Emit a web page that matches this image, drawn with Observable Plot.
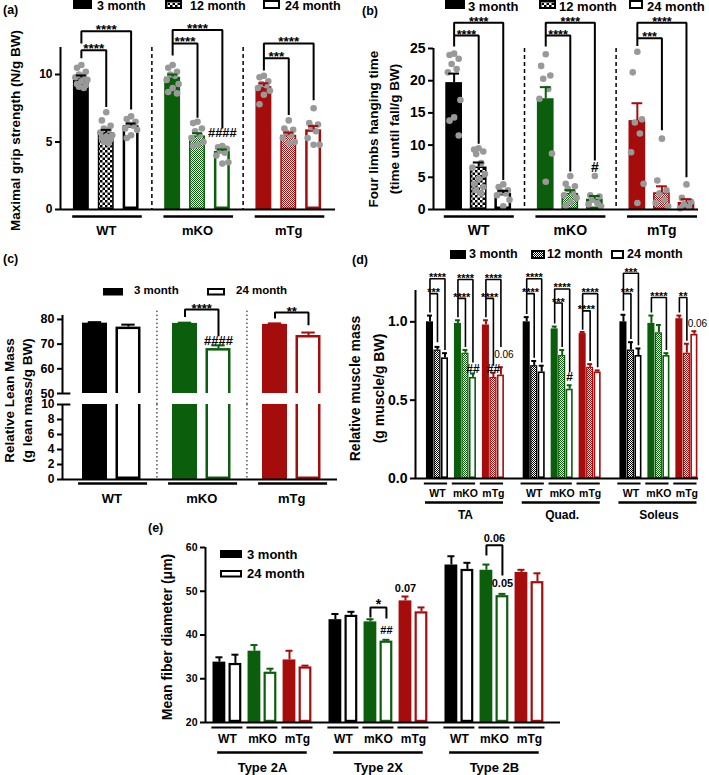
<!DOCTYPE html>
<html><head><meta charset="utf-8">
<script src="https://cdn.jsdelivr.net/npm/d3@7"></script>
<script src="https://cdn.jsdelivr.net/npm/@observablehq/plot@0.6"></script>
<style>
body{margin:0;background:#fff;}
#fig{position:relative;width:709px;height:775px;overflow:hidden;background:#fff;font-family:"Liberation Sans",Arial,Helvetica,sans-serif;font-weight:bold;color:#000;}
#fig g[aria-label="y-axis"] line, #fig g[aria-label="y-axis tick"] path{stroke-width:2px;}
</style></head>
<body><div id="fig"></div>
<script>
// ================= DATA =================
const genotypes = ["WT", "mKO", "mTg"];
const ages3 = ["3 month", "12 month", "24 month"];
const ages2 = ["3 month", "24 month"];
const muscles = ["TA", "Quad.", "Soleus"];
const fiberTypes = ["Type 2A", "Type 2X", "Type 2B"];

// (a) maximal grip strength
const gripTicks = [0, 5, 10];
const gripMean = [[9.75, 5.7, 6.2], [9.8, 5.45, 4.3], [9.1, 5.5, 5.9]];
const gripSem = [[0.18, 0.2, 0.17], [0.2, 0.2, 0.15], [0.25, 0.2, 0.28]];
const gripPoints = [
  [[10.7,10.5,10.2,10.0,9.9,9.8,9.6,9.5,9.3,9.2,9.1,9.0],
   [7.2,6.6,6.2,6.0,5.9,5.7,5.5,5.4,5.3,5.2,5.0,4.9],
   [6.9,6.7,6.5,6.3,6.2,6.0,5.9,5.5,5.3]],
  [[10.7,10.5,10.2,10.0,9.9,9.6,9.3,9.0,8.7,8.6],
   [6.5,6.4,6.0,5.8,5.5,5.3,5.0,4.8,4.7],
   [4.7,4.6,4.5,4.4,4.2,4.0,3.5,3.4]],
  [[9.9,9.8,9.5,9.3,9.2,9.0,8.8,8.5,7.8],
   [6.6,6.0,5.9,5.7,5.5,5.3,5.0,4.9],
   [7.5,6.4,6.3,6.1,5.8,5.3,4.8,4.8]]
];
// [genotype, fromAge, toAge, bracketTop, leftLegEnd, rightLegEnd, label]
const gripBrackets = [
  [0,0,1,11.8,11.2,7.6,"****"], [0,0,2,13.2,12.3,7.4,"****"],
  [1,0,1,12.3,11.4,6.8,"****"], [1,0,2,13.3,12.3,6.0,"****"],
  [2,0,1,11.2,10.3,7.0,"***"],  [2,0,2,12.3,11.2,8.1,"****"]
];
const gripNotes = [[1, 2, 5.7, "####"]];

// (b) four limbs hanging time
const hangTicks = [0, 5, 10, 15, 20, 25];
const hangMean = [[19.7, 6.6, 2.5], [17.2, 2.5, 1.6], [13.8, 2.6, 1.1]];
const hangSem = [[1.4, 0.7, 0.4], [1.8, 0.5, 0.5], [2.7, 1.0, 0.5]];
const hangPoints = [
  [[24.2,24.0,23.4,22.6,21.8,21.3,17.0,14.3,13.8,11.5],
   [9.5,9.3,9.0,8.6,7.2,6.5,5.5,4.8,4.0,3.5,3.0,2.5],
   [3.9,3.5,3.0,2.8,2.5,2.2,1.5,0.5]],
  [[24.1,22.3,20.8,20.3,18.7,17.2,8.7,4.3],
   [5.2,4.0,3.6,3.2,2.6,2.2,1.8,1.2,0.6],
   [5.2,2.2,2.0,1.5,1.0,0.8,0.5]],
  [[24.5,21.3,14.0,13.5,11.8,8.9,4.0,1.0],
   [11.0,4.5,3.0,2.5,1.5,1.0,0.5],
   [3.9,1.8,1.2,0.8,0.4,0.2]]
];
const hangBrackets = [
  [0,0,1,27.0,25.3,10.2,"****"], [0,0,2,29.0,27.0,4.6,"****"],
  [1,0,1,27.0,25.3,5.9,"****"],  [1,0,2,29.0,27.0,7.6,"****"],
  [2,0,1,26.6,25.4,12.3,"***"],  [2,0,2,29.0,26.6,5.0,"****"]
];
const hangNotes = [[1, 2, 6.5, "#"]];

// (c) relative lean mass (broken axis)
const leanUpperTicks = [50, 60, 70, 80];
const leanLowerTicks = [0, 2, 4, 6, 8, 10];
const leanMean = [[78.5, 76.9], [78.4, 68.2], [78.0, 73.5]];
const leanSem = [[0.4, 1.0], [0.3, 1.3], [0.4, 1.2]];
const leanBrackets = [[1,0,1,84.0,81.0,73.2,"****"], [2,0,1,82.8,80.4,77.6,"**"]];
const leanNotes = [[1, 1, 71.4, "####"]];

// (d) relative muscle mass [muscle][genotype][age]
const massTicks = [0, 0.5, 1.0];
const massMean = [
  [[1.00,0.82,0.77],[0.99,0.80,0.645],[0.98,0.645,0.66]],
  [[1.00,0.72,0.68],[0.955,0.785,0.57],[0.925,0.71,0.68]],
  [[1.00,0.82,0.785],[0.99,0.93,0.785],[1.02,0.80,0.92]]
];
const massSem = [
  [[0.04,0.02,0.03],[0.02,0.02,0.025],[0.03,0.03,0.05]],
  [[0.03,0.03,0.04],[0.015,0.035,0.025],[0.01,0.02,0.01]],
  [[0.045,0.05,0.045],[0.05,0.05,0.015],[0.02,0.06,0.02]]
];
// [muscle, genotype, fromAge, toAge, top, leftEnd, rightEnd, label]
const massBrackets = [
  [0,0,0,1,1.18,1.06,0.87,"***"],  [0,0,0,2,1.275,1.18,0.82,"****"],
  [0,1,0,1,1.15,1.03,0.84,"****"], [0,1,0,2,1.27,1.15,0.74,"****"],
  [0,2,0,1,1.15,1.03,0.72,"****"], [0,2,0,2,1.27,1.15,0.84,"****"],
  [1,0,0,1,1.18,1.05,0.77,"****"], [1,0,0,2,1.275,1.18,0.74,"****"],
  [1,1,0,1,1.12,0.99,0.84,"***"],  [1,1,0,2,1.21,1.12,0.68,"****"],
  [1,2,0,1,1.07,0.95,0.75,"****"], [1,2,0,2,1.18,1.07,0.71,"****"],
  [2,0,0,1,1.18,1.07,0.89,"***"],  [2,0,0,2,1.31,1.18,0.85,"***"],
  [2,1,0,2,1.155,1.06,0.82,"****"],
  [2,2,0,1,1.155,1.06,0.88,"**"]
];
const massNotes = [[0,1,2,0.70,"##"], [0,2,1,0.70,"##"], [0,2,2,0.79,"0.06"], [1,1,2,0.645,"#"], [2,2,2,0.985,"0.06"]];

// (e) mean fiber diameter [fiber type][genotype][age]
const fiberTicks = [20, 30, 40, 50, 60];
const fiberMean = [
  [[33.8,33.5],[36.3,31.5],[34.3,32.7]],
  [[43.5,44.5],[43.0,38.6],[47.8,45.3]],
  [[56.0,55.0],[54.8,49.0],[54.3,52.2]]
];
const fiberSem = [
  [[1.1,2.0],[1.4,0.8],[2.1,0.3]],
  [[1.3,0.8],[0.6,0.3],[1.0,1.0]],
  [[2.0,1.5],[1.3,0.4],[0.6,1.9]]
];
const fiberBrackets = [[1,1,0,1,46.3,44.0,43.8,"*"], [2,1,0,1,60.5,58.2,53.6,"0.06"]];
const fiberNotes = [[1,1,1,41.0,"##"], [1,2,0,50.6,"0.07"], [2,1,1,51.8,"0.05"]];

// ================= STYLE / HELPERS =================
const FONT = '"Liberation Sans", Arial, Helvetica, sans-serif';
const genoColor = ["#000000", "#0b5e0b", "#a50c0c"];
const DOT = "#999999";
const NS = "http://www.w3.org/2000/svg";
const fig = document.getElementById("fig");

const defsSvg = document.createElementNS(NS, "svg");
defsSvg.setAttribute("width", 0); defsSvg.setAttribute("height", 0);
defsSvg.style.position = "absolute";
const defs = document.createElementNS(NS, "defs");
defsSvg.appendChild(defs); fig.appendChild(defsSvg);
function svgEl(tag, attrs) { const e = document.createElementNS(NS, tag); for (const k in attrs) e.setAttribute(k, attrs[k]); return e; }
function checker(id, color, cell) {
  const p = svgEl("pattern", {id, patternUnits: "userSpaceOnUse", width: 2 * cell, height: 2 * cell});
  p.appendChild(svgEl("rect", {x: 0, y: 0, width: 2 * cell, height: 2 * cell, fill: "#fff"}));
  p.appendChild(svgEl("rect", {x: 0, y: 0, width: cell, height: cell, fill: color}));
  p.appendChild(svgEl("rect", {x: cell, y: cell, width: cell, height: cell, fill: color}));
  defs.appendChild(p);
  return `url(#${id})`;
}
const chkCoarse = checker("chkCoarse", "#000", 2.5);
const chkFine = genoColor.map((c, i) => checker("chkFine" + i, c, 1));

function place(node, left, top) {
  node.style.position = "absolute"; node.style.left = left + "px"; node.style.top = top + "px";
  node.style.overflow = "visible"; fig.appendChild(node); return node;
}
function addText(text, x, baseline, size, weight = "bold") {
  const d = document.createElement("div");
  d.textContent = text;
  Object.assign(d.style, {position: "absolute", left: x + "px", top: (baseline - 0.8465 * size) + "px",
    fontSize: size + "px", lineHeight: size + "px", fontWeight: weight, whiteSpace: "nowrap"});
  fig.appendChild(d);
}
function legendItem(x, y, w, h, kind, color, pat, tx, baseline, size, text) {
  const s = svgEl("svg", {width: w, height: h});
  Object.assign(s.style, {position: "absolute", left: x + "px", top: y + "px", overflow: "visible"});
  const sw = 2;
  if (kind === "solid") s.appendChild(svgEl("rect", {x: 0, y: 0, width: w, height: h, fill: color}));
  else s.appendChild(svgEl("rect", {x: sw / 2, y: sw / 2, width: w - sw, height: h - sw,
    fill: kind === "open" ? "#fff" : pat, stroke: color, "stroke-width": sw}));
  fig.appendChild(s);
  addText(text, tx, baseline, size);
}
function common(width, height, ml, mr, mt, mb, fs) {
  return {width, height, marginLeft: ml, marginRight: mr, marginTop: mt, marginBottom: mb,
    color: {type: "identity"},
    style: {fontFamily: FONT, fontSize: fs + "px", fontWeight: "bold", background: "transparent", overflow: "visible", color: "#000"}};
}
function yLabel(text, o) {
  return Plot.text([text], {frameAnchor: o.anchor || "left", text: d => d, rotate: -90, textAnchor: "middle", lineAnchor: "middle",
    dx: o.dx, dy: o.dy || 0, fontSize: o.fs, lineHeight: o.lh || 1});
}
const spread = [0, -0.55, 0.55, -0.3, 0.3, -0.75, 0.75];
function dotRows(points, posFn, half) {
  const rows = [];
  points.forEach((byAge, g) => byAge.forEach((vals, a) => {
    [...vals].sort((p, q) => q - p).forEach((v, i) => rows.push({x: posFn(g, a) + spread[i % spread.length] * half, y: v}));
  }));
  return rows;
}
function bars(rows, y0, o) {
  const X1 = r => r.x - r.half, X2 = r => r.x + r.half, clip = !!o.clip;
  return [
    Plot.rect(rows.filter(r => r.kind === "solid"), {x1: X1, x2: X2, y1: () => y0, y2: r => r.v, fill: r => r.color, clip}),
    Plot.rect(rows.filter(r => r.kind === "pattern"), {x1: X1, x2: X2, y1: () => y0, y2: r => r.v, fill: r => r.fill, stroke: r => r.color, strokeWidth: o.patW, inset: o.patW / 2, clip}),
    Plot.rect(rows.filter(r => r.kind === "open"), {x1: X1, x2: X2, y1: () => y0, y2: r => r.v, fill: "#fff", stroke: r => r.color, strokeWidth: o.openW, inset: o.openW / 2, clip})
  ];
}
function errs(rows, capHalf, w) {
  const T = r => r.v + r.sem;
  return [
    Plot.ruleX(rows, {x: r => r.x, y1: r => r.v, y2: T, stroke: r => r.color, strokeWidth: w}),
    Plot.ruleY(rows, {y: T, x1: r => r.x - capHalf, x2: r => r.x + capHalf, stroke: r => r.color, strokeWidth: w})
  ];
}
function brackets(list, o) {
  const pts = list.flatMap((b, i) => [{i, x: b.xl, y: b.left}, {i, x: b.xl, y: b.top}, {i, x: b.xr, y: b.top}, {i, x: b.xr, y: b.right}]);
  const stars = list.filter(b => b.label.startsWith("*")), nums = list.filter(b => !b.label.startsWith("*"));
  return [
    Plot.line(pts, {x: "x", y: "y", z: "i", stroke: "#000", strokeWidth: o.sw, strokeLinejoin: "miter", strokeLinecap: "butt"}),
    Plot.text(stars, {x: b => (b.xl + b.xr) / 2, y: b => b.top, text: "label", lineAnchor: "bottom", dy: o.dyStar, fontSize: o.fs}),
    Plot.text(nums, {x: b => (b.xl + b.xr) / 2, y: b => b.top, text: "label", lineAnchor: "bottom", dy: -3, fontSize: o.fsNum || 11})
  ];
}

// ================= PANEL (a) =================
const xDomA = [-0.84, 10.22];
const posA = (g, a) => g * 3.67 + a;
const rowsA = [];
genotypes.forEach((gn, g) => ages3.forEach((an, a) => rowsA.push({
  x: posA(g, a), half: 0.32, v: gripMean[g][a], sem: gripSem[g][a], color: genoColor[g],
  kind: ["solid", "pattern", "open"][a], fill: g === 0 ? chkCoarse : chkFine[g]})));
const brA = gripBrackets.map(([g, a1, a2, top, left, right, label]) => ({xl: posA(g, a1), xr: posA(g, a2), top, left, right, label}));
const noteA = gripNotes.map(([g, a, y, label]) => ({x: posA(g, a), y, label}));
place(Plot.plot({
  ...common(345, 240, 60, 10, 47, 31, 12),
  x: {domain: xDomA, axis: null},
  y: {domain: [0, 12], ticks: gripTicks, tickSize: 5, tickPadding: 3, label: null},
  marks: [
    Plot.ruleX(genotypes.slice(1), {x: (d, i) => posA(i, 2) + 0.835, strokeDasharray: "4,3", strokeWidth: 1.5}),
    ...bars(rowsA, 0, {patW: 1.5, openW: 2.5}),
    Plot.dot(dotRows(gripPoints, posA, 0.32), {x: "x", y: "y", r: 3.3, fill: DOT}),
    ...errs(rowsA, 0.2, 2),
    Plot.ruleX([xDomA[0]], {strokeWidth: 2}),
    Plot.ruleY([0], {strokeWidth: 2}),
    ...brackets(brA, {sw: 2, fs: 13.5, dyStar: 3}),
    Plot.text(noteA, {x: "x", y: "y", text: "label", fontSize: 13}),
    Plot.ruleY(genotypes, {y: () => 0, x1: (d, i) => posA(i, 0) - 0.35, x2: (d, i) => posA(i, 2) + 0.45, dy: 7, strokeWidth: 2.5}),
    Plot.text(genotypes, {x: (d, i) => posA(i, 1), y: () => 0, text: d => d, dy: 21, fontSize: 13}),
    yLabel("Maximal grip strength (N/g BW)", {dx: -45, dy: 2, fs: 13.5})
  ]
}), 0, 0);
addText("(a)", 3, 15, 12.5);
legendItem(73, 0, 19, 9, "solid", "#000", null, 97, 10.8, 12.5, ages3[0]);
legendItem(165, 0, 17, 9, "pattern", "#000", chkCoarse, 190, 10.8, 12.5, ages3[1]);
legendItem(263, 0, 17, 9, "open", "#000", null, 285, 10.8, 12.5, ages3[2]);

// ================= PANEL (b) =================
const xDomB = [-0.84, 9.95];
const posB = (g, a) => g * 3.73 + a;
const rowsB = [];
genotypes.forEach((gn, g) => ages3.forEach((an, a) => rowsB.push({
  x: posB(g, a), half: 0.34, v: hangMean[g][a], sem: hangSem[g][a], color: genoColor[g],
  kind: ["solid", "pattern", "open"][a], fill: g === 0 ? chkCoarse : chkFine[g]})));
const brB = hangBrackets.map(([g, a1, a2, top, left, right, label]) => ({xl: posB(g, a1), xr: posB(g, a2), top, left, right, label}));
const noteB = hangNotes.map(([g, a, y, label]) => ({x: posB(g, a), y, label}));
place(Plot.plot({
  ...common(359, 240, 83, 11, 48, 31, 14),
  x: {domain: xDomB, axis: null},
  y: {domain: [0, 25], ticks: hangTicks, tickSize: 5, tickPadding: 3, label: null},
  marks: [
    Plot.ruleX(genotypes.slice(1), {x: (d, i) => posB(i, 2) + 0.865, strokeDasharray: "4,3", strokeWidth: 1.5}),
    ...bars(rowsB, 0, {patW: 1.5, openW: 2.5}),
    Plot.dot(dotRows(hangPoints, posB, 0.34), {x: "x", y: "y", r: 3.3, fill: DOT}),
    ...errs(rowsB, 0.22, 2),
    Plot.ruleX([xDomB[0]], {strokeWidth: 2}),
    Plot.ruleY([0], {strokeWidth: 2}),
    ...brackets(brB, {sw: 2, fs: 12.5, dyStar: 3}),
    Plot.text(noteB, {x: "x", y: "y", text: "label", fontSize: 14}),
    Plot.ruleY(genotypes, {y: () => 0, x1: (d, i) => posB(i, 0) - 0.4, x2: (d, i) => posB(i, 2) + 0.45, dy: 7, strokeWidth: 2.5}),
    Plot.text(genotypes, {x: (d, i) => posB(i, 1), y: () => 0, text: d => d, dy: 21, fontSize: 14}),
    yLabel("Four limbs hanging time\n(time until fall/g BW)", {dx: -52, dy: 0, fs: 13.5, lh: 1.55})
  ]
}), 350, 0);
addText("(b)", 362, 16, 12.5);
legendItem(445, 0, 20, 9, "solid", "#000", null, 468, 10.8, 13, ages3[0]);
legendItem(539, 0, 17, 9, "pattern", "#000", chkCoarse, 559, 10.8, 13, ages3[1]);
legendItem(629, 0, 14, 9, "open", "#000", null, 647, 10.8, 13, ages3[2]);

// ================= PANEL (c) =================
const xDomC = [-0.97, 7.24];
const posC = (g, a) => g * 2.687 + a;
const rowsC = [];
genotypes.forEach((gn, g) => ages2.forEach((an, a) => rowsC.push({
  x: posC(g, a), half: 0.373, v: leanMean[g][a], sem: leanSem[g][a], color: genoColor[g],
  kind: ["solid", "open"][a], fill: null})));
const brC = leanBrackets.map(([g, a1, a2, top, left, right, label]) => ({xl: posC(g, a1), xr: posC(g, a2), top, left, right, label}));
const noteC = leanNotes.map(([g, a, y, label]) => ({x: posC(g, a), y, label}));
// upper segment
place(Plot.plot({
  ...common(345, 149, 62, 8, 60, 11, 12.5),
  x: {domain: xDomC, axis: null},
  y: {domain: [50, 81.6], ticks: leanUpperTicks, tickSize: 5, tickPadding: 3, label: null},
  marks: [
    Plot.ruleX(genotypes.slice(1), {x: (d, i) => posC(i, 1) + 0.85, y1: () => 45.5, y2: () => 83.5, strokeDasharray: "1.5,2.5", strokeWidth: 1}),
    ...bars(rowsC, 40, {patW: 1.5, openW: 2.5, clip: true}),
    ...errs(rowsC, 0.2, 2),
    Plot.ruleX([xDomC[0]], {strokeWidth: 2}),
    Plot.ruleY([50], {x1: () => xDomC[0], x2: () => xDomC[0] + 0.25, strokeWidth: 2}),
    ...brackets(brC, {sw: 2, fs: 13, dyStar: 3}),
    Plot.text(noteC, {x: "x", y: "y", text: "label", fontSize: 13}),
    yLabel("Relative Lean Mass\n(g lean mass/g BW)", {anchor: "bottom-left", dx: -45.5, dy: 7, fs: 13.5, lh: 1.33})
  ]
}), 0, 255);
// lower segment
place(Plot.plot({
  ...common(345, 109, 62, 8, 8, 26, 12),
  x: {domain: xDomC, axis: null},
  y: {domain: [0, 10], ticks: leanLowerTicks, tickSize: 5, tickPadding: 3, label: null},
  marks: [
    Plot.ruleX(genotypes.slice(1), {x: (d, i) => posC(i, 1) + 0.85, strokeDasharray: "1.5,2.5", strokeWidth: 1}),
    ...bars(rowsC, 0, {patW: 1.5, openW: 2.5, clip: true}),
    Plot.ruleX([xDomC[0]], {strokeWidth: 2}),
    Plot.ruleY([0], {strokeWidth: 2}),
    Plot.ruleY([10], {x1: () => xDomC[0], x2: () => xDomC[0] + 0.25, strokeWidth: 2}),
    Plot.ruleY(genotypes, {y: () => 0, x1: (d, i) => posC(i, 0) - 0.49, x2: (d, i) => posC(i, 1) + 0.57, dy: 4, strokeWidth: 2.5}),
    Plot.text(genotypes, {x: (d, i) => posC(i, 0) + 0.5, y: () => 0, text: d => d, dy: 19, fontSize: 13})
  ]
}), 0, 396);
addText("(c)", 3, 264, 12.5);
legendItem(103, 288, 20, 7.5, "solid", "#000", null, 134, 295, 11.5, ages2[0]);
legendItem(207, 288, 18, 7.5, "open", "#000", null, 236, 295, 11.5, ages2[1]);

// ================= PANEL (d) =================
const xDomD = [-1.93, 35.81];
const posD = (m, g, a) => m * 12.9 + g * 3.73 + a;
const rowsD = [];
muscles.forEach((mn, m) => genotypes.forEach((gn, g) => ages3.forEach((an, a) => rowsD.push({
  x: posD(m, g, a), half: 0.47, v: massMean[m][g][a], sem: massSem[m][g][a], color: genoColor[g],
  kind: ["solid", "pattern", "open"][a], fill: chkFine[g]}))));
const subD = muscles.flatMap((mn, m) => genotypes.map((gn, g) => ({m, g, name: gn})));
const brD = massBrackets.map(([m, g, a1, a2, top, left, right, label]) => ({xl: posD(m, g, a1), xr: posD(m, g, a2), top, left, right, label}));
const noteD = massNotes.map(([m, g, a, y, label]) => ({x: posD(m, g, a), y, label}));
place(Plot.plot({
  ...common(359, 265, 65, 11, 32, 45, 14),
  x: {domain: xDomD, axis: null},
  y: {domain: [0, 1.2], ticks: massTicks, tickFormat: d3.format(".1f"), tickSize: 5, tickPadding: 3, label: null},
  marks: [
    ...bars(rowsD, 0, {patW: 1.2, openW: 1.6}),
    ...errs(rowsD, 0.33, 2),
    Plot.ruleX([xDomD[0]], {strokeWidth: 2}),
    Plot.ruleY([0], {strokeWidth: 2}),
    ...brackets(brD, {sw: 1.6, fs: 11, dyStar: 2.5}),
    Plot.text(noteD.filter(d => d.label.startsWith("#")), {x: "x", y: "y", text: "label", fontSize: 12}),
    Plot.text(noteD.filter(d => !d.label.startsWith("#")), {x: "x", y: "y", text: "label", fontSize: 10, fontWeight: "normal", dx: 3}),
    Plot.ruleY(subD, {y: () => 0, x1: d => posD(d.m, d.g, 0) - 0.75, x2: d => posD(d.m, d.g, 2) + 0.35, dy: 5, strokeWidth: 2}),
    Plot.text(subD, {x: d => posD(d.m, d.g, 1), y: () => 0, text: "name", dy: 15, fontSize: 10.5}),
    Plot.ruleY(muscles, {y: () => 0, x1: (d, i) => posD(i, 0, 0) - 0.6, x2: (d, i) => posD(i, 2, 2) + 0.35, dy: 24, strokeWidth: 2.5}),
    Plot.text(muscles, {x: (d, i) => posD(i, 1, 1), y: () => 0, text: d => d, dy: 37, fontSize: 12}),
    yLabel("Relative muscle mass\n(g muscle/g BW)", {dx: -51.5, dy: 4, fs: 14, lh: 1.78})
  ]
}), 350, 258);
addText("(d)", 352, 265, 12.5);
legendItem(450, 250, 16, 9, "solid", "#000", null, 469, 259, 12.5, ages3[0]);
legendItem(531, 250, 14, 9, "pattern", "#000", chkFine[0], 547, 259, 12.5, ages3[1]);
legendItem(611, 250, 13, 9, "open", "#000", null, 627, 259, 12.5, ages3[2]);

// ================= PANEL (e) =================
const xDomE = [-0.87, 21.32];
const posE = (t, g, a) => t * 7.25 + g * 2.19 + a;
const rowsE = [];
fiberTypes.forEach((tn, t) => genotypes.forEach((gn, g) => ages2.forEach((an, a) => rowsE.push({
  x: posE(t, g, a), half: 0.4, v: fiberMean[t][g][a], sem: fiberSem[t][g][a], color: genoColor[g],
  kind: ["solid", "open"][a], fill: null}))));
const subE = fiberTypes.flatMap((tn, t) => genotypes.map((gn, g) => ({t, g, name: gn})));
const brE = fiberBrackets.map(([t, g, a1, a2, top, left, right, label]) => ({xl: posE(t, g, a1), xr: posE(t, g, a2), top, left, right, label}));
const noteE = fiberNotes.map(([t, g, a, y, label]) => ({x: posE(t, g, a), y, label}));
place(Plot.plot({
  ...common(420, 245, 55, 10, 17, 53, 10.5),
  x: {domain: xDomE, axis: null},
  y: {domain: [20, 60], ticks: fiberTicks, tickSize: 5, tickPadding: 3, label: null},
  marks: [
    ...bars(rowsE, 20, {patW: 1.5, openW: 2.2}),
    ...errs(rowsE, 0.22, 2),
    Plot.ruleX([xDomE[0]], {strokeWidth: 2}),
    Plot.ruleY([20], {strokeWidth: 2}),
    ...brackets(brE, {sw: 2, fs: 14, dyStar: 2, fsNum: 11}),
    Plot.text(noteE, {x: "x", y: "y", text: "label", fontSize: 11}),
    Plot.ruleY(subE, {y: () => 20, x1: d => posE(d.t, d.g, 0) - 0.47, x2: d => posE(d.t, d.g, 1) + 0.47, dy: 5, strokeWidth: 2}),
    Plot.text(subE, {x: d => posE(d.t, d.g, 0) + 0.5, y: () => 20, text: "name", dy: 17, fontSize: 12}),
    Plot.ruleY(fiberTypes, {y: () => 20, x1: (d, i) => posE(i, 1, 0) + 0.5 - 2.8, x2: (d, i) => posE(i, 1, 0) + 0.5 + 2.8, dy: 30, strokeWidth: 2.5}),
    Plot.text(fiberTypes, {x: (d, i) => posE(i, 1, 0) + 0.5, y: () => 20, text: d => d, dy: 45.5, fontSize: 13}),
    yLabel("Mean fiber diameter (\u03bcm)", {dx: -38, dy: 2, fs: 14})
  ]
}), 150, 530);
addText("(e)", 148, 533, 12.5);
legendItem(220, 550, 22, 8, "solid", "#000", null, 247, 559, 13, ages2[0]);
legendItem(220, 570, 22, 7.5, "open", "#000", null, 247, 578, 13, ages2[1]);
</script>
</body></html>
